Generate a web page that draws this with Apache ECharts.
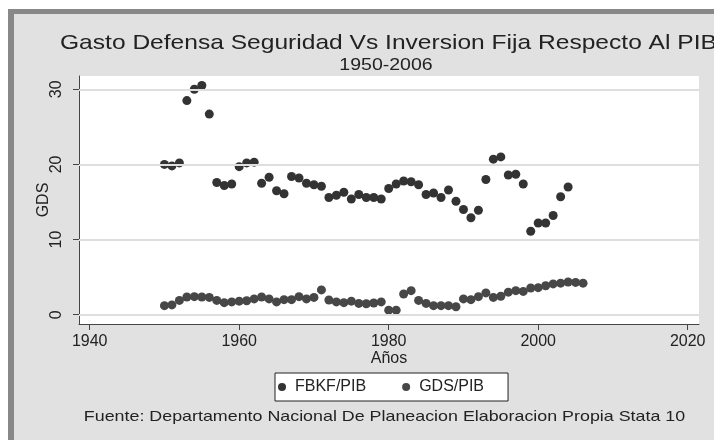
<!DOCTYPE html>
<html><head><meta charset="utf-8">
<script src="https://cdn.jsdelivr.net/npm/echarts@6/dist/echarts.min.js"></script>
<style>html,body{margin:0;padding:0;background:#fff}#c{width:714px;height:440px}</style>
</head><body><div id="c"></div>
<script>
const years = [1950,1951,1952,1953,1954,1955,1956,1957,1958,1959,1960,1961,1962,1963,1964,1965,1966,1967,1968,1969,1970,1971,1972,1973,1974,1975,1976,1977,1978,1979,1980,1981,1982,1983,1984,1985,1986,1987,1988,1989,1990,1991,1992,1993,1994,1995,1996,1997,1998,1999,2000,2001,2002,2003,2004,2005,2006];
const fbkf = [20.0,19.8,20.2,28.5,30.0,30.5,26.7,17.6,17.2,17.4,19.7,20.2,20.3,17.5,18.3,16.5,16.1,18.4,18.2,17.5,17.3,17.1,15.6,15.9,16.3,15.4,16.0,15.6,15.6,15.4,16.8,17.4,17.8,17.7,17.3,16.0,16.2,15.6,16.6,15.1,14.0,12.9,13.9,18.0,20.7,21.0,18.6,18.7,17.4,11.1,12.2,12.2,13.2,15.7,17.0];
const gds = [1.2,1.3,1.9,2.35,2.4,2.35,2.3,1.9,1.6,1.7,1.8,1.85,2.1,2.35,2.1,1.7,2.0,2.0,2.4,2.1,2.3,3.3,1.95,1.7,1.6,1.8,1.5,1.45,1.55,1.7,0.6,0.6,2.75,3.2,1.9,1.5,1.2,1.2,1.2,1.05,2.1,2.0,2.4,2.9,2.3,2.45,3.0,3.2,3.1,3.55,3.6,3.85,4.1,4.2,4.35,4.3,4.2];
const xTicks = [1940,1960,1980,2000,2020];
const yTicks = [0,10,20,30];
const seriesNames = ['FBKF/PIB','GDS/PIB'];

const F = '"Liberation Sans", Arial, Helvetica, sans-serif';
const chart = echarts.init(document.getElementById('c'));
chart.setOption({
  backgroundColor: '#fff',
  animation: false,
  textStyle: {fontFamily: F},
  graphic: [
    {type:'rect', z:-10, shape:{x:8,y:9,width:706,height:431}, style:{fill:'#888'}},
    {type:'rect', z:-9, shape:{x:14,y:14,width:700,height:426}, style:{fill:'#e1e1e1'}},
    {type:'text', x:60, y:43, scaleX:1.17, style:{text:'Gasto Defensa Seguridad Vs Inversion Fija Respecto Al PIB', font:'21px '+F, fill:'#222', textAlign:'left', textVerticalAlign:'middle'}},
    {type:'text', x:386, y:66, scaleX:1.22, style:{text:'1950-2006', font:'16px '+F, fill:'#222', textAlign:'center', textVerticalAlign:'middle'}},
    {type:'text', x:384.5, y:417, scaleX:1.19, style:{text:'Fuente: Departamento Nacional De Planeacion Elaboracion Propia Stata 10', font:'15px '+F, fill:'#222', textAlign:'center', textVerticalAlign:'middle'}}
  ],
  grid: {left:79, right:15, top:76, bottom:116, show:true, backgroundColor:'#fff', borderWidth:0},
  legend: {
    data: seriesNames, left: 275, top: 373, orient:'horizontal',
    backgroundColor:'#fff', borderColor:'#222', borderWidth:1, padding:[6,24,6,3],
    itemWidth:16, itemHeight:8, itemGap:36,
    textStyle:{fontSize:16, color:'#222', fontFamily:F}
  },
  xAxis: {
    type:'value', min:1938.57, max:2021.51,
    name:'Años', nameLocation:'middle', nameGap:27, nameMoveOverlap:false,
    nameTextStyle:{fontSize:16, color:'#222', fontFamily:F},
    axisLine:{show:true, onZero:false, lineStyle:{color:'#444', width:1}},
    axisTick:{show:true, length:6, customValues:xTicks, lineStyle:{color:'#444'}},
    axisLabel:{customValues:xTicks, fontSize:16, color:'#222', margin:10, fontFamily:F, formatter: v => String(v)},
    splitLine:{show:false}
  },
  yAxis: {
    type:'value', min:-1.24, max:31.77,
    name:'GDS', nameLocation:'middle', nameGap:27, nameRotate:90, nameMoveOverlap:false,
    nameTextStyle:{fontSize:16, color:'#222', fontFamily:F},
    axisLine:{show:true, onZero:false, lineStyle:{color:'#444', width:1}},
    axisTick:{show:true, length:6, customValues:yTicks, lineStyle:{color:'#444'}},
    axisLabel:{customValues:yTicks, fontSize:16, color:'#222', rotate:90, margin:14, fontFamily:F},
    splitLine:{show:false}
  },
  series: [
    {type:'scatter', name:'_grid', data:[], silent:true, z:1,
     markLine:{silent:true, symbol:'none', label:{show:false}, lineStyle:{color:'#dedede', width:2, type:'solid'},
       data: yTicks.map(v => ({yAxis:v}))}},
    {type:'scatter', name:seriesNames[0], symbol:'circle', symbolSize:9, z:3,
     itemStyle:{color:'#333', opacity:1},
     data: fbkf.map((v,i) => [years[i], v])},
    {type:'scatter', name:seriesNames[1], symbol:'circle', symbolSize:9, z:3,
     itemStyle:{color:'#474747', opacity:1},
     data: gds.map((v,i) => [years[i], v])}
  ]
});
</script></body></html>
